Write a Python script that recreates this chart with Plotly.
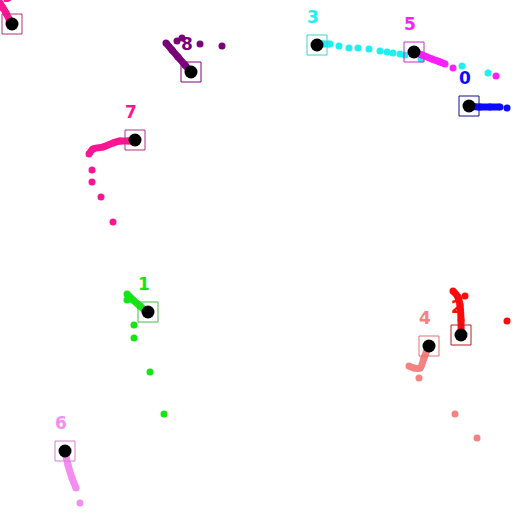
import plotly.graph_objects as go

ids = ["0", "1", "2", "3", "4", "5", "6", "7", "8", "9"]
cur_x = [469, 148, 461, 317, 429, 414, 65, 135, 191, 12]
cur_y = [106, 312, 335, 45, 346, 52, 451, 140, 72, 24]
trail_colors = ["#0a0aff", "#14e614", "#ff0a0a", "#1ef0f0", "#f58282",
                "#ff1eff", "#f58cf0", "#ff1493", "#780078", "#ff1493"]
box_colors = ["#101090", "#40c040", "#b02020", "#40d0d0", "#e07070",
              "#c030c0", "#d080d0", "#b03080", "#800080", "#b03080"]

# dense (connected) part of each track
dense_x = [
    [469, 480, 490, 500],
    [147, 140, 133, 127],
    [461, 461, 460, 458, 453],
    [317, 323, 330],
    [428, 424, 420, 414, 409],
    [414, 422, 432, 440, 445],
    [65, 68, 72, 76],
    [135, 128, 120, 113, 103, 93, 89],
    [191, 185, 178, 172, 166],
    [12, 9, 6, 3, 0],
]
dense_y = [
    [106, 107, 107, 107],
    [312, 306, 300, 294],
    [335, 320, 305, 297, 291],
    [45, 44, 44],
    [347, 358, 368, 368, 366],
    [52, 55, 59, 62, 64],
    [451, 465, 478, 488],
    [140, 141, 141, 143, 147, 149, 154],
    [72, 65, 57, 50, 43],
    [24, 19, 13, 8, 3],
]
# sparse dots of each track
dots_x = [
    [507],
    [127, 134, 134, 150, 164],
    [465, 507],
    [339, 349, 358, 369, 380, 387, 393, 400, 405, 421, 462, 488],
    [419, 455, 477],
    [453, 496],
    [80],
    [92, 92, 101, 113],
    [177, 182, 200, 222],
    [],
]
dots_y = [
    [108],
    [300, 325, 338, 372, 414],
    [296, 321],
    [46, 48, 48, 49, 51, 52, 53, 54, 55, 59, 66, 73],
    [378, 414, 438],
    [68, 76],
    [503],
    [170, 182, 197, 222],
    [41, 38, 44, 46],
    [],
]
label_dx = -4
label_dy = -26

fig = go.Figure()
for i in range(len(ids)):
    fig.add_trace(go.Scatter(x=dense_x[i], y=dense_y[i], mode="lines",
                             line=dict(color=trail_colors[i], width=7, shape="spline"),
                             hoverinfo="skip", showlegend=False))
    fig.add_trace(go.Scatter(x=dense_x[i], y=dense_y[i], mode="markers",
                             marker=dict(color=trail_colors[i], size=7),
                             hoverinfo="skip", showlegend=False))
    if dots_x[i]:
        fig.add_trace(go.Scatter(x=dots_x[i], y=dots_y[i], mode="markers",
                                 marker=dict(color=trail_colors[i], size=7),
                                 hoverinfo="skip", showlegend=False))

fig.add_trace(go.Scatter(x=cur_x, y=cur_y, mode="markers",
                         marker=dict(symbol="square-open", size=20,
                                     color=box_colors, line=dict(width=1, color=box_colors)),
                         hoverinfo="skip", showlegend=False))
fig.add_trace(go.Scatter(x=cur_x, y=cur_y, mode="markers",
                         marker=dict(color="black", size=13, line=dict(width=0)),
                         hoverinfo="skip", showlegend=False))
fig.add_trace(go.Scatter(x=[x + label_dx for x in cur_x], y=[y + label_dy for y in cur_y],
                         mode="text", text=["<b>%s</b>" % t for t in ids],
                         textfont=dict(family="DejaVu Sans", size=17, color=trail_colors),
                         hoverinfo="skip", showlegend=False))

fig.update_layout(width=512, height=512, margin=dict(l=0, r=0, t=0, b=0),
                  paper_bgcolor="white", plot_bgcolor="white", showlegend=False)
fig.update_xaxes(range=[0, 512], visible=False, fixedrange=True)
fig.update_yaxes(range=[512, 0], visible=False, fixedrange=True)
fig.write_html("out.html")
